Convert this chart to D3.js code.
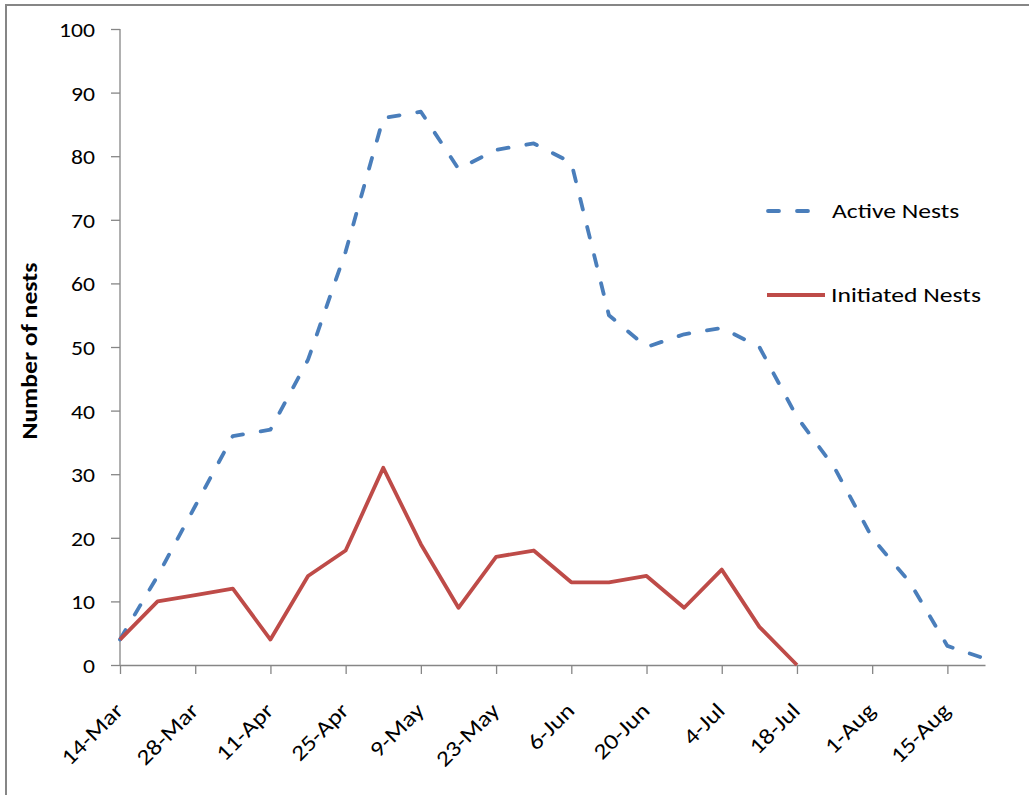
<!DOCTYPE html>
<html><head><meta charset="utf-8">
<script src="https://cdn.jsdelivr.net/npm/d3@7"></script>
<style>
html,body{margin:0;padding:0;background:#fff;}
text{font-family:Carlito,Lato,"Open Sans",sans-serif;fill:#000;}
</style></head>
<body><svg id="c" width="1029" height="795"></svg>
<script>
// ---- data ----
const weekOffsets = [0,7,14,21,28,35,42,49,56,63,70,77,84,91,98,105,112,119,126,133,140,147,154,161]; // days after 14-Mar
const activeNests = [4,14,25,36,37,48,65,86,87,78,81,82,79,55,50,52,53,50,39,31,20,13,3,1];
const initiatedNests = [4,10,11,12,4,14,18,31,19,9,17,18,13,13,14,9,15,6,0];
const xTickOffsets = [0,14,28,42,56,70,84,98,112,126,140,154];
const xTickLabels = ["14-Mar","28-Mar","11-Apr","25-Apr","9-May","23-May","6-Jun","20-Jun","4-Jul","18-Jul","1-Aug","15-Aug"];
const yTicks = [0,10,20,30,40,50,60,70,80,90,100];
const seriesNames = ["Active Nests","Initiated Nests"];
const colors = ["#4A7EBB","#BE4B48"];

const svg = d3.select("#c");
const axisColor = "#868686";
const FS = 21;

// helper: horizontal stretch so that a reference text hits a target width
function fitScale(sample, target, size, weight){
  const t = svg.append("text").attr("font-size",size).attr("font-weight",weight||"normal").text(sample);
  const w = t.node().getComputedTextLength(); t.remove();
  return target / w;
}
const FSX = 22, FST = 23;
const sxTick = fitScale("100", 36, FS);
const sxX = fitScale("14-Mar", 77, FSX);
const sxLeg = fitScale("Initiated Nests", 150, FS);
const sxTitle = fitScale("Number of nests", 177, FST, "bold");

// outer border
svg.append("rect").attr("x",6).attr("y",5).attr("width",1100).attr("height",900)
  .attr("fill","none").attr("stroke",axisColor).attr("stroke-width",2);

const x = d3.scaleLinear().domain([0,161]).range([120,985]);
const y = d3.scaleLinear().domain([0,100]).range([665,29]);

// y axis
const yAxis = svg.append("g").attr("transform","translate(120,0)")
  .call(d3.axisLeft(y).tickValues(yTicks).tickSize(9).tickPadding(0).tickFormat(d3.format("d")));
yAxis.select(".domain").attr("stroke",axisColor).attr("stroke-width",1.3).attr("d","M0,"+y(100)+"V"+y(0));
yAxis.selectAll(".tick line").attr("stroke",axisColor).attr("stroke-width",1.3);
yAxis.selectAll(".tick text").attr("font-size",FS).attr("font-family","Carlito,Lato,sans-serif").attr("fill","#000")
  .attr("x",0).attr("dy","0.36em").attr("transform","translate(-25,0) scale("+sxTick+",1)");

// x axis
const xAxis = svg.append("g").attr("transform","translate(0,665)")
  .call(d3.axisBottom(x).tickValues(xTickOffsets).tickSize(9).tickSizeOuter(0)
    .tickFormat((d,i)=>xTickLabels[i]));
xAxis.select(".domain").attr("stroke",axisColor).attr("stroke-width",1.3);
xAxis.selectAll(".tick line").attr("stroke",axisColor).attr("stroke-width",1.3);
xAxis.selectAll(".tick text").attr("font-size",FSX).attr("font-family","Carlito,Lato,sans-serif").attr("fill","#000")
  .attr("text-anchor","end").attr("dy",0).attr("y",0)
  .attr("transform","translate(4,47) rotate(-45) scale("+sxX+",1)");

// y title
svg.append("text").attr("transform","translate(37,351) rotate(-90) scale("+sxTitle+",1)")
  .attr("text-anchor","middle").attr("font-size",FST).attr("font-weight","bold")
  .text("Number of nests");

// lines
const line = d3.line().x((d,i)=>x(weekOffsets[i])).y(d=>y(d));
svg.append("path").datum(activeNests).attr("d",line).attr("fill","none")
  .attr("stroke",colors[0]).attr("stroke-width",3.8).attr("stroke-linecap","round")
  .attr("stroke-linejoin","round").attr("stroke-dasharray","11,18");
svg.append("path").datum(initiatedNests).attr("d",line).attr("fill","none")
  .attr("stroke",colors[1]).attr("stroke-width",3.8).attr("stroke-linejoin","round");

// legend
const leg = svg.append("g");
leg.append("line").attr("x1",768).attr("x2",814).attr("y1",211).attr("y2",211)
  .attr("stroke",colors[0]).attr("stroke-width",3.8).attr("stroke-linecap","round").attr("stroke-dasharray","11,18");
leg.append("text").attr("transform","translate(832,218) scale("+sxLeg+",1)").attr("font-size",FS).text(seriesNames[0]);
leg.append("line").attr("x1",767).attr("x2",825).attr("y1",295).attr("y2",295)
  .attr("stroke",colors[1]).attr("stroke-width",3.8);
leg.append("text").attr("transform","translate(831,302) scale("+sxLeg+",1)").attr("font-size",FS).text(seriesNames[1]);
</script></body></html>
